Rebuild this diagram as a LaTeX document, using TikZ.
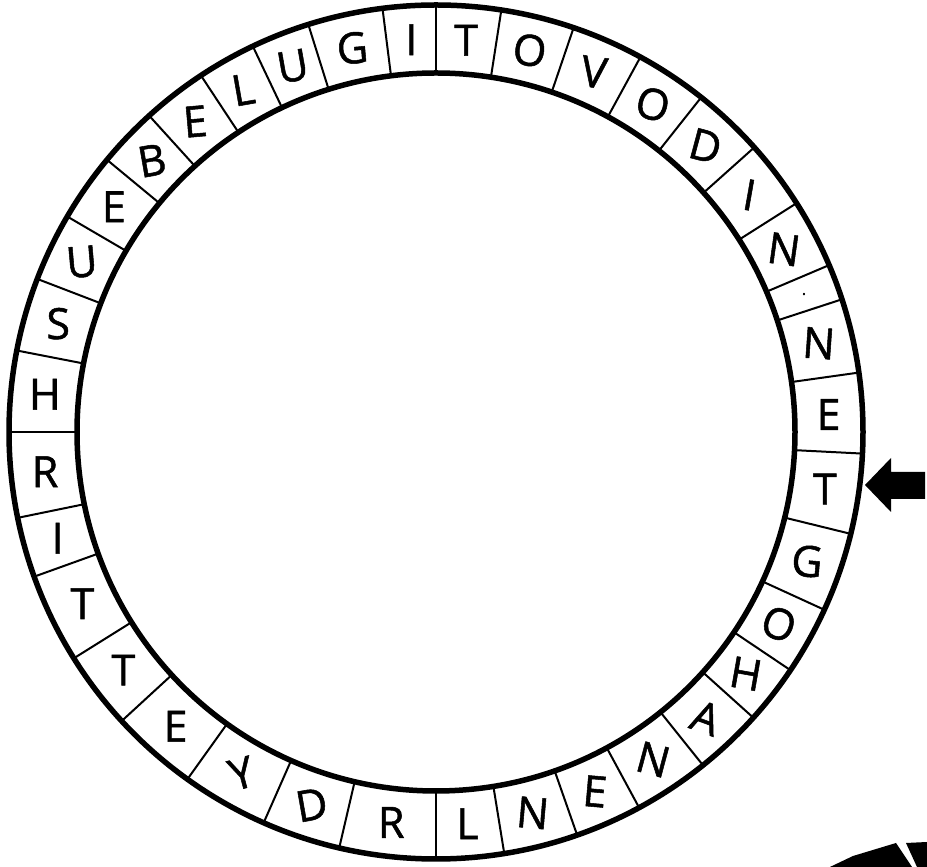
\documentclass[tikz,border=0pt]{standalone}
\usepackage{fontspec}
\newfontfamily\cellfont{Open Sans}[FakeBold=1.2]
\usetikzlibrary{calc}

\begin{document}
\begin{tikzpicture}[x=1pt,y=1pt,
   ring/.style={line width=5.5pt},
   divider/.style={line width=2pt},
   cellletter/.style={font=\cellfont\fontsize{43}{45}\selectfont,inner sep=0pt}]
  \useasboundingbox (0,0) rectangle (927,867);
  \coordinate (c) at (436,435);
  \draw[ring] (c) circle[radius=427];
  \draw[ring] (c) circle[radius=359];
  \foreach \a in {90,81.2,71.2,61.4,51.6,41.8,32.4,23,18.1,8,-2.9,-13.8,-24.6,-33.9,
      -42,-51.3,-61.6,-70.7,-80.8,-90,-103.1,-113.8,-125.6,-137.4,-148,-160.2,-168.4,
      -180,-191,-201,-210.3,-219.6,-227.8,-236.6,-244.6,-252.6,-262.8}
    \draw[divider] ($(c)+(\a:359)$) -- ($(c)+(\a:427)$);
  \foreach \s/\e/\l/\t [count=\i] in {
      90/81.2/T/0, 81.2/71.2/O/-8, 71.2/61.4/V/-8, 61.4/51.6/O/-15, 51.6/41.8/D/-15,
      41.8/32.4/I/-10, 32.4/23/N/-8, 23/18.1/{\fontsize{16}{16}\selectfont.}/0,
      18.1/8/N/-4, 8/-2.9/E/0, -2.9/-13.8/T/0, -13.8/-24.6/G/-5, -24.6/-33.9/O/-20,
      -33.9/-42/H/-10, -42/-51.3/A/-20, -51.3/-61.6/N/-15, -61.6/-70.7/E/-5,
      -70.7/-80.8/N/-5, -80.8/-90/L/0, -90/-103.1/R/0, -103.1/-113.8/D/10,
      -113.8/-125.6/Y/15, -125.6/-137.4/E/0, -137.4/-148/T/0, -148/-160.2/T/0,
      -160.2/-168.4/I/0, -168.4/-180/R/0, -180/-191/H/0, -191/-201/S/0,
      -201/-210.3/U/5, -210.3/-219.6/E/0, -219.6/-227.8/B/10, -227.8/-236.6/E/5,
      -236.6/-244.6/L/10, -244.6/-252.6/U/10, -252.6/-262.8/G/5, -262.8/-270/I/0}
    \node[cellletter,rotate=\t] (l\i) at ($(c)+({(\s+\e)/2}:393)$) {\l};
  \coordinate (tip) at (865,382);
  \fill (tip) -- (891,409) -- (891,395) -- (925,395) -- (925,368) -- (891,368)
    -- (891,355) -- cycle;
  \fill (830,0) -- (832,1) -- (853,11) -- (896,24) -- (912,0) -- cycle;
  \fill (906,24) -- (927,25) -- (927,0) -- (917,0) -- cycle;
\end{tikzpicture}
\end{document}
